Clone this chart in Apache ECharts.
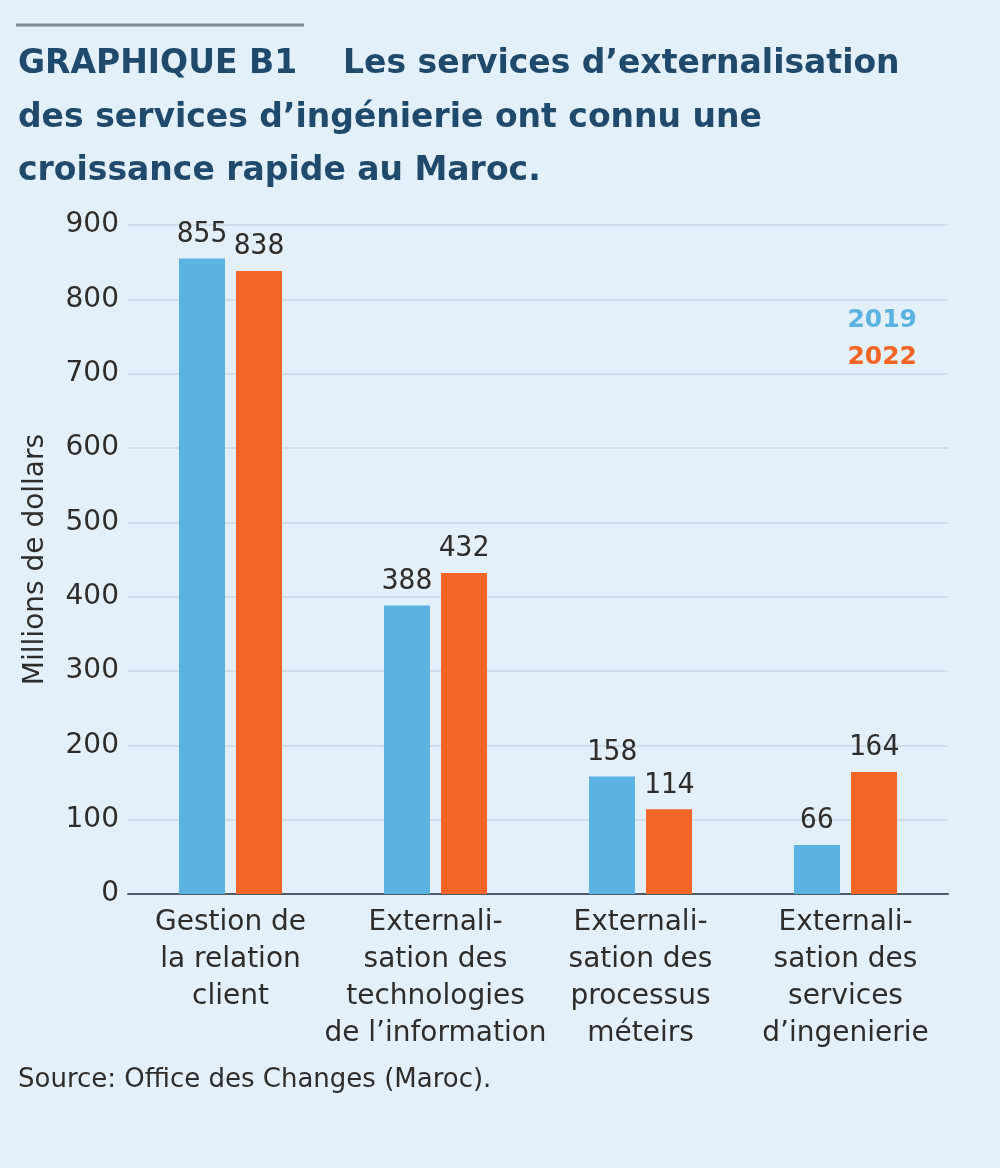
<!DOCTYPE html>
<html>
<head>
<meta charset="utf-8">
<script src="https://cdn.jsdelivr.net/npm/echarts@6/dist/echarts.min.js"></script>
<style>
html,body{margin:0;padding:0;background:#e3f0f9;}
#c{width:1000px;height:1168px;}
</style>
</head>
<body>
<div id="c"></div>
<script>
var categories = [
  "Gestion de\nla relation\nclient",
  "Externali-\nsation des\ntechnologies\nde l\u2019information",
  "Externali-\nsation des\nprocessus\nm\u00e9teirs",
  "Externali-\nsation des\nservices\nd\u2019ingenierie"
];
var values2019 = [855, 388, 158, 66];
var values2022 = [838, 432, 114, 164];
var yTicks = { min: 0, max: 900, interval: 100 };
var seriesNames = ["2019", "2022"];

var BLUE = "#5bb3e1";
var ORANGE = "#f26526";
var TITLE = "#1f4a6c";
var TXT = "#2d2d2d";
var FONT = "'DejaVu Sans', sans-serif";
var MONO = "'DejaVu Sans Mono', monospace";

var chart = echarts.init(document.getElementById('c'), null, {renderer: 'canvas'});
chart.setOption({
  backgroundColor: "#e3f0f9",
  animation: false,
  graphic: [
    { type: 'line', shape: { x1: 16, y1: 25, x2: 304, y2: 25 }, style: { stroke: '#7d8a92', lineWidth: 3 } },
    { type: 'text', left: 18, top: 48, style: { text: "GRAPHIQUE B1    Les services d\u2019externalisation", font: "bold 33px " + FONT, fill: TITLE } },
    { type: 'text', left: 18, top: 102, style: { text: "des services d\u2019ing\u00e9nierie ont connu une", font: "bold 33px " + FONT, fill: TITLE } },
    { type: 'text', left: 18, top: 155, style: { text: "croissance rapide au Maroc.", font: "bold 33px " + FONT, fill: TITLE } },
    { type: 'text', left: 18, top: 1067, style: { text: "Source: Office des Changes (Maroc).", font: "26px " + FONT, fill: TXT } }
  ],
  legend: {
    orient: 'vertical',
    right: 78,
    top: 303,
    itemWidth: 0,
    itemHeight: 0,
    itemGap: 12,
    icon: 'none',
    data: [
      { name: seriesNames[0], textStyle: { color: BLUE } },
      { name: seriesNames[1], textStyle: { color: ORANGE } }
    ],
    textStyle: { fontSize: 25, fontWeight: 'bold', fontFamily: FONT, padding: 0 }
  },
  grid: { left: 128, right: 52, top: 225, bottom: 274, containLabel: false },
  xAxis: {
    type: 'category',
    data: categories,
    axisLine: { lineStyle: { color: '#4c5b66', width: 2 } },
    axisTick: { show: false },
    axisLabel: { color: TXT, fontSize: 28, fontFamily: FONT, lineHeight: 37, margin: 10, interval: 0 }
  },
  yAxis: {
    type: 'value',
    min: yTicks.min, max: yTicks.max, interval: yTicks.interval,
    name: "Millions de dollars",
    nameLocation: 'middle',
    nameGap: 78,
    nameTextStyle: { color: TXT, fontSize: 28, fontFamily: FONT },
    axisLine: { show: false },
    axisTick: { show: false },
    axisLabel: { color: TXT, fontSize: 28, fontFamily: FONT, margin: 9 },
    splitLine: { lineStyle: { color: '#cbd9e3', width: 1.5 } }
  },
  series: [
    {
      name: seriesNames[0], type: 'bar', data: values2019, barWidth: 46, barGap: '24%',
      itemStyle: { color: BLUE },
      label: { show: true, position: 'top', distance: 10, color: TXT, fontSize: 28, fontFamily: MONO }
    },
    {
      name: seriesNames[1], type: 'bar', data: values2022, barWidth: 46,
      itemStyle: { color: ORANGE },
      label: { show: true, position: 'top', distance: 10, color: TXT, fontSize: 28, fontFamily: MONO }
    }
  ]
});
</script>
</body>
</html>
